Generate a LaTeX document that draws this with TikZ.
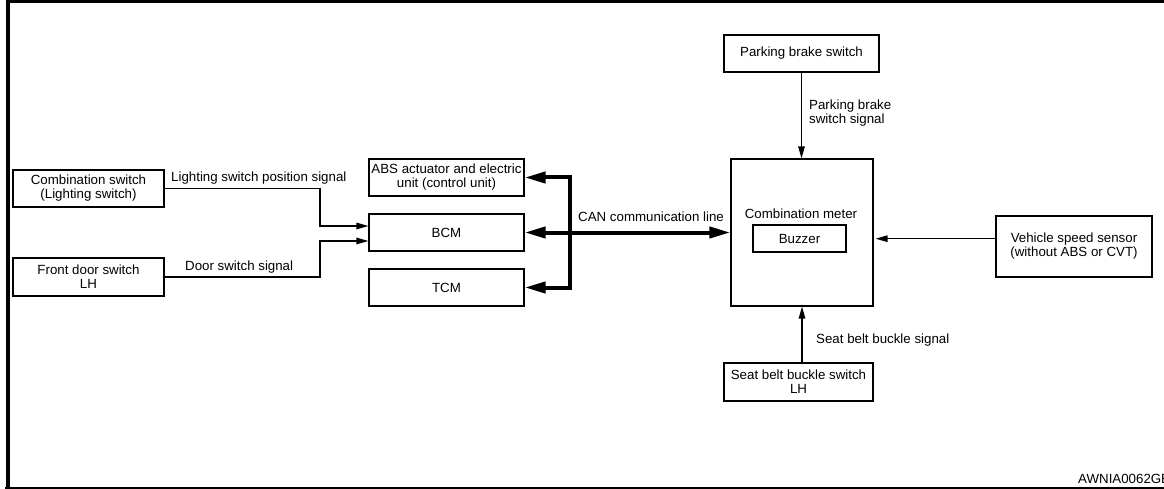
\documentclass[tikz,border=0pt]{standalone}
\usepackage{fontspec}
\setmainfont{Liberation Sans}
\usetikzlibrary{arrows.meta,calc}
\tikzset{
  box/.style={draw, line width=1.2pt, inner sep=0pt, align=center, font=\fontsize{13.3}{14}\selectfont},
  lbl/.style={inner sep=0pt, align=left, font=\fontsize{13.3}{14}\selectfont},
  sig/.style={line width=1.3pt, -{Triangle[length=12pt,width=6.5pt]}},
  bus/.style={line width=4pt, line join=miter, {Triangle[length=21pt,width=11pt]}-{Triangle[length=21pt,width=11pt]}},
  frame/.style={line width=4pt}
}
\begin{document}
\begin{tikzpicture}[x=1pt,y=-1pt]
\useasboundingbox (0,0) rectangle (1164,489);
% frame
\draw[frame] (7.5,489) -- (7.5,1.5) -- (1170,1.5);
\draw[line width=2pt] (5,488) -- (1170,488);

% nodes
\node[box, minimum width=151pt, minimum height=37pt] (cs) at (88.5,188.5) {Combination switch\\(Lighting switch)};
\node[box, minimum width=151pt, minimum height=38pt] (fd) at (88.5,277) {Front door switch\\LH};
\node[box, minimum width=155pt, minimum height=37pt] (abs) at (446.5,177.5) {ABS actuator and electric\\unit (control unit)};
\node[box, minimum width=155pt, minimum height=37pt] (bcm) at (446.5,232.5) {BCM};
\node[box, minimum width=155pt, minimum height=37pt] (tcm) at (446.5,287.5) {TCM};
\node[box, minimum width=142pt, minimum height=147pt] (cm) at (802,232.5) {};
\node[lbl] (cmt) at (801,214) {Combination meter};
\node[box, minimum width=93pt, minimum height=27pt] (buz) at (799.5,238.5) {Buzzer};
\node[box, minimum width=156pt, minimum height=61pt] (vss) at (1074,246.5) {Vehicle speed sensor\\(without ABS or CVT)};
\node[box, minimum width=155pt, minimum height=37pt] (pbs) at (801.5,53.5) {Parking brake switch};
\node[box, minimum width=149pt, minimum height=38pt] (sbs) at (798.5,382) {Seat belt buckle switch\\LH};

% connectors
\coordinate (j1) at (320,226);
\coordinate (j2) at (320,241);
\draw[sig] (cs.east) -| (j1) -- (j1 -| bcm.west);
\draw[sig] (fd.east) -| (j2) -- (j2 -| bcm.west);
\coordinate (bx) at (570,0);
\draw[bus] (abs.east) -- (abs.east -| bx) -- (tcm.east -| bx) -- (tcm.east);
\draw[bus] (bcm.east) -- (cm.west);
\coordinate (vy) at (0,238.7);
\draw[sig] (vss.west |- vy) -- ($(cm.east |- vy)+(2,0)$);
\draw[sig] (pbs.south) -- (pbs.south |- cm.north);
\draw[sig] (cm.south |- sbs.north) -- (cm.south);

% labels
\node[lbl, anchor=west] (l1) at (171,178) {Lighting switch position signal};
\node[lbl, anchor=west] (l2) at (185,267) {Door switch signal};
\node[lbl, anchor=west] (l3) at (578,217) {CAN communication line};
\node[lbl, anchor=west] (l4) at (809,112.7) {Parking brake\\switch signal};
\node[lbl, anchor=west] (l5) at (816,340) {Seat belt buckle signal};
\node[lbl, anchor=west] (l6) at (1078,479) {AWNIA0062GE};
\end{tikzpicture}
\end{document}
